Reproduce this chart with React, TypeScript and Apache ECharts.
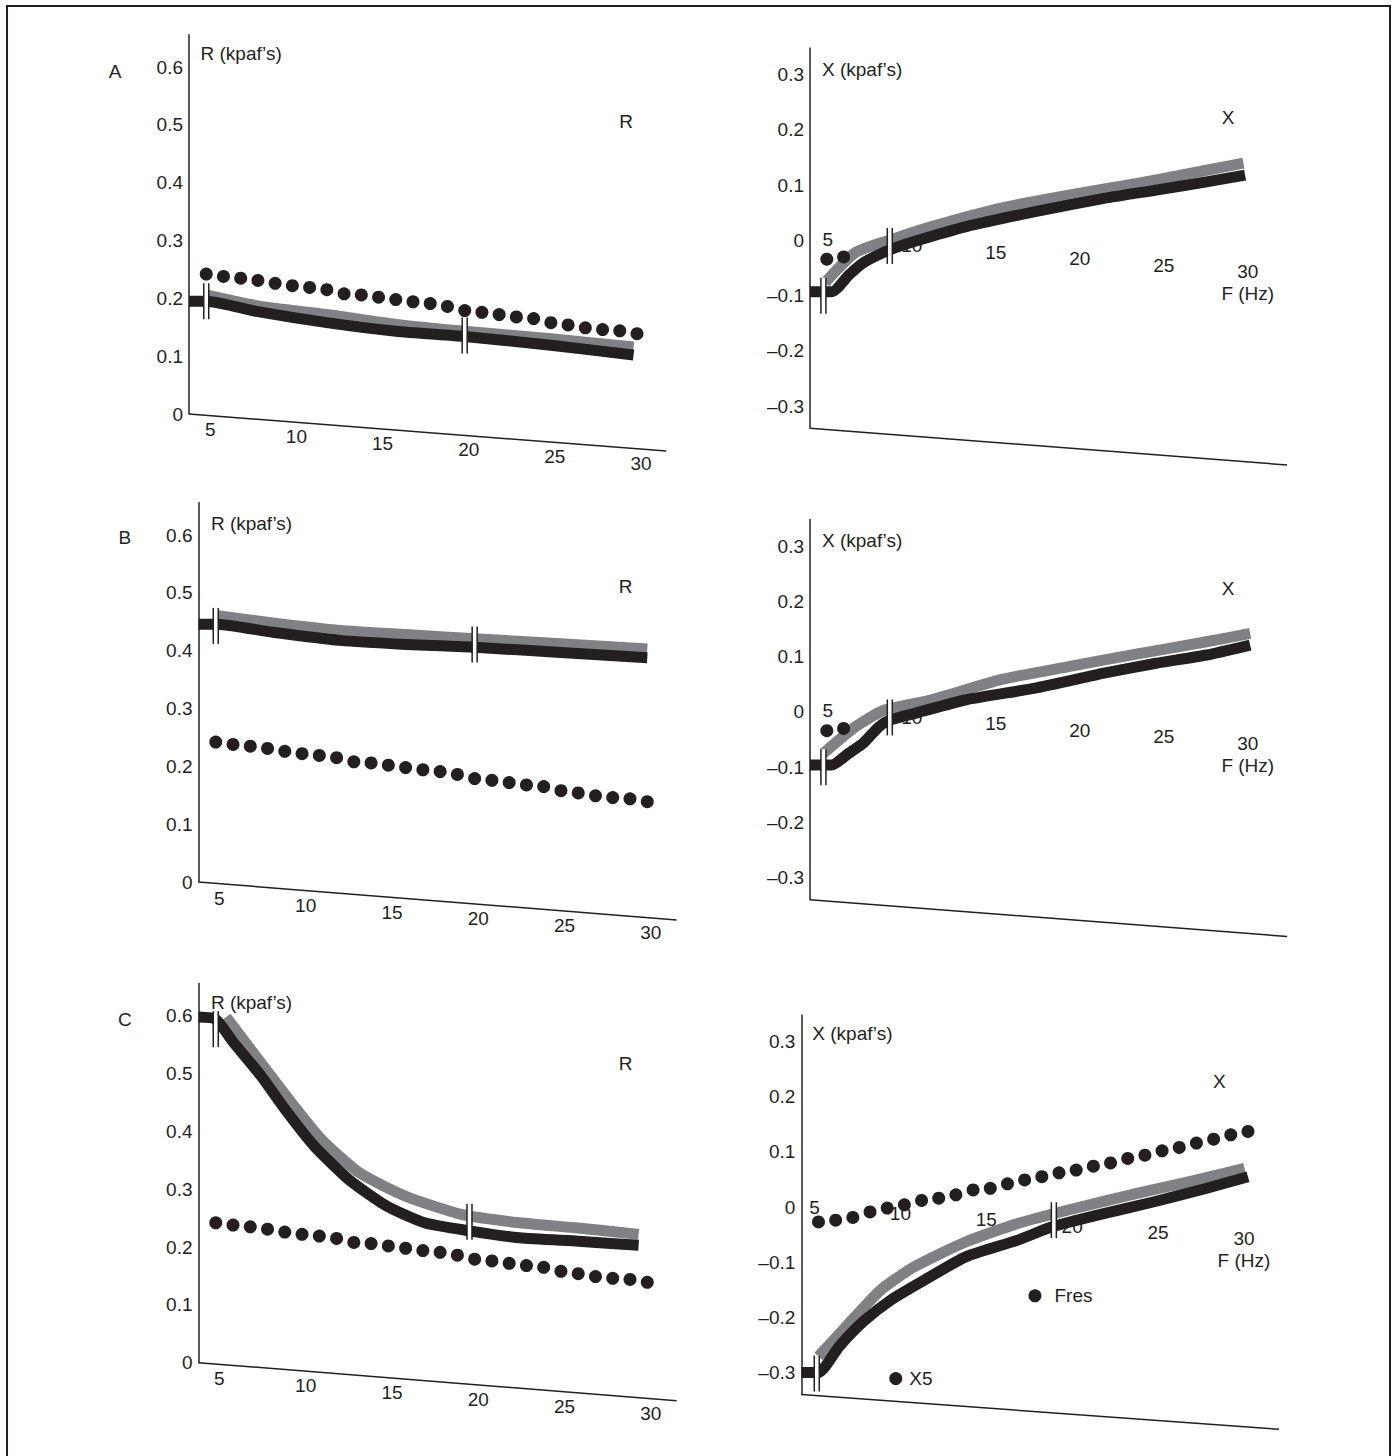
import React, { useEffect, useRef } from 'react';
import * as echarts from 'echarts';

const FONT = "'Liberation Sans', Arial, Helvetica, sans-serif";
const INK = '#231f20';
const GREY = '#808184';
const FS = 19;

// ---- tick labels ----
const freqTicks = [5, 10, 15, 20, 25, 30];
const rTicks = [0, 0.1, 0.2, 0.3, 0.4, 0.5, 0.6];
const xTicks = [-0.3, -0.2, -0.1, 0, 0.1, 0.2, 0.3];

// ---- reference (dotted) series, 1 Hz steps ----
const dotFreqs = [5, 6, 7, 8, 9, 10, 11, 12, 13, 14, 15, 16, 17, 18, 19, 20, 21, 22, 23, 24, 25, 26, 27, 28, 29, 30];
const rNormal = [0.242, 0.238, 0.235, 0.231, 0.226, 0.222, 0.219, 0.215, 0.208, 0.206, 0.202, 0.198, 0.194, 0.191, 0.186, 0.179, 0.176, 0.172, 0.168, 0.165, 0.158, 0.154, 0.149, 0.146, 0.144, 0.139];
const xNormal = [-0.027, -0.024, -0.019, -0.009, -0.002, 0.004, 0.012, 0.016, 0.022, 0.031, 0.034, 0.042, 0.049, 0.055, 0.062, 0.067, 0.074, 0.08, 0.088, 0.094, 0.102, 0.108, 0.116, 0.123, 0.131, 0.137];
const xNormalStartFreqs = [5, 6];
const xNormalStart = [-0.034, -0.03];

// ---- panel A ----
const aRBlack = [[4, 0.195], [5, 0.195], [8, 0.177], [12, 0.158], [16, 0.143], [20, 0.134], [25, 0.119], [29.8, 0.102]];
const aRGrey = [[5, 0.206], [8, 0.187], [12, 0.172], [16, 0.155], [20, 0.143], [25, 0.13], [29.8, 0.116]];
const aRBreaks = [[5, 0.195], [20, 0.136]];
const aXBlack = [[4, -0.093], [5.3, -0.093], [6.3, -0.063], [7.15, -0.041], [8.75, -0.017], [10.2, -0.002], [13.3, 0.025], [17.4, 0.052], [21.5, 0.076], [24.6, 0.091], [27.6, 0.106], [29.9, 0.118]];
const aXGrey = [[4.9, -0.076], [6.7, -0.022], [8.8, 0.001], [11.25, 0.025], [15.3, 0.058], [19.4, 0.082], [23.5, 0.103], [27.6, 0.127], [29.8, 0.14]];
const aXBreaks = [[4.8, -0.1], [8.75, -0.01]];

// ---- panel B ----
const bRBlack = [[4, 0.446], [5, 0.446], [8.3, 0.432], [12.2, 0.418], [16, 0.411], [20, 0.406], [25, 0.397], [30, 0.388]];
const bRGrey = [[5, 0.461], [8.3, 0.448], [12.2, 0.435], [16, 0.428], [20, 0.421], [25, 0.412], [30, 0.403]];
const bRBreaks = [[5, 0.443], [20, 0.411]];
const bXBlack = [[4, -0.096], [5.3, -0.096], [6.3, -0.075], [7.15, -0.057], [8.1, -0.027], [8.75, -0.015], [10.2, -0.003], [13.3, 0.022], [17.4, 0.043], [21.5, 0.07], [24.6, 0.088], [27.6, 0.103], [30.2, 0.121]];
const bXGrey = [[4.8, -0.075], [6.7, -0.027], [8.4, 0.003], [11.25, 0.022], [15.3, 0.058], [19.4, 0.082], [23.5, 0.105], [27.6, 0.127], [30.2, 0.142]];
const bXBreaks = [[4.8, -0.1], [8.75, -0.01]];

// ---- panel C ----
const cRBlack = [[4, 0.598], [5, 0.594], [6, 0.555], [7.6, 0.497], [9.1, 0.435], [10.7, 0.375], [12.7, 0.317], [14.9, 0.271], [17.1, 0.242], [19.7, 0.228], [22.6, 0.216], [26, 0.21], [29.5, 0.203]];
const cRGrey = [[5.6, 0.598], [7.6, 0.519], [9.4, 0.449], [11.1, 0.387], [13.3, 0.329], [16, 0.288], [19.3, 0.256], [22.6, 0.242], [26, 0.233], [29.5, 0.222]];
const cRBreaks = [[5, 0.577], [19.7, 0.244]];
const cXBlack = [[4, -0.3], [5, -0.3], [6.2, -0.253], [7.6, -0.208], [9.2, -0.169], [11.2, -0.132], [13.6, -0.09], [16.6, -0.06], [18.6, -0.036], [21.6, -0.012], [24.6, 0.01], [27.6, 0.034], [30, 0.055]];
const cXGrey = [[5, -0.271], [6.6, -0.217], [8.6, -0.151], [10.6, -0.108], [13.6, -0.063], [16.6, -0.03], [19.6, -0.005], [23.6, 0.025], [26.6, 0.046], [29.8, 0.07]];
const cXBreaks = [[4.9, -0.302], [18.7, -0.024]];
const cXMarkNames = ['Fres', 'X5'];
const cXMarkPoints = [[17.6, -0.161], [9.5, -0.311]];

const zip = (fs: number[], vs: number[]) => fs.map((f, k) => [f, vs[k]]);

type Panel = {
  grid: number[];
  xr: number[];
  yr: number[];
  slope: number;
  dx: number;
  dy: number;
  right: boolean;
  black: number[][];
  grey: number[][];
  breaks: number[][];
  dots: number[][];
  title: string;
  titlePos: number[];
  tag: string;
  tagPos: number[];
};

const panels: Panel[] = [
  { grid: [189, 34.8, 477.3, 379.2], xr: [4, 31.7], yr: [0, 0.656], slope: 0.0776, dx: 4, dy: 14.6, right: false,
    black: aRBlack, grey: aRGrey, breaks: aRBreaks, dots: zip(dotFreqs, rNormal),
    title: 'R (kpaf’s)', titlePos: [200.5, 53], tag: 'R', tagPos: [626, 121] },
  { grid: [810, 48.1, 477.1, 380.2], xr: [4, 32.4], yr: [-0.34, 0.348], slope: 0.0768, dx: 1, dy: -2.4, right: true,
    black: aXBlack, grey: aXGrey, breaks: aXBreaks, dots: zip(xNormalStartFreqs, xNormalStart),
    title: 'X (kpaf’s)', titlePos: [822, 69.3], tag: 'X', tagPos: [1228, 117.3] },
  { grid: [198.5, 502.8, 478.1, 379.2], xr: [4, 31.7], yr: [0, 0.656], slope: 0.0794, dx: 3.6, dy: 15, right: false,
    black: bRBlack, grey: bRGrey, breaks: bRBreaks, dots: zip(dotFreqs, rNormal),
    title: 'R (kpaf’s)', titlePos: [210.9, 523], tag: 'R', tagPos: [625.6, 586] },
  { grid: [810, 519.6, 477.1, 380.2], xr: [4, 32.4], yr: [-0.34, 0.348], slope: 0.0768, dx: 1, dy: -2.4, right: true,
    black: bXBlack, grey: bXGrey, breaks: bXBreaks, dots: zip(xNormalStartFreqs, xNormalStart),
    title: 'X (kpaf’s)', titlePos: [822, 540.7], tag: 'X', tagPos: [1228, 588.3] },
  { grid: [198.5, 983.5, 478.1, 379.2], xr: [4, 31.7], yr: [0, 0.656], slope: 0.0794, dx: 3.6, dy: 14.8, right: false,
    black: cRBlack, grey: cRGrey, breaks: cRBreaks, dots: zip(dotFreqs, rNormal),
    title: 'R (kpaf’s)', titlePos: [210.9, 1002.7], tag: 'R', tagPos: [625.6, 1063] },
  { grid: [801.3, 1015.1, 477.6, 379.4], xr: [4, 31.8], yr: [-0.34, 0.348], slope: 0.073, dx: -4, dy: -1, right: true,
    black: cXBlack, grey: cXGrey, breaks: cXBreaks, dots: zip(dotFreqs, xNormal),
    title: 'X (kpaf’s)', titlePos: [812.3, 1033.3], tag: 'X', tagPos: [1219.4, 1081.7] },
];

const panelLetters = ['A', 'B', 'C'];
const panelLetterPos = [[115, 71], [124.8, 537], [124.8, 1019]];

const fmtY = (v: number) => {
  if (Math.abs(v) < 1e-9) return '0';
  return v < 0 ? '–' + Math.abs(v).toFixed(1) : v.toFixed(1);
};

function buildOption() {
  const grid: any[] = [];
  const xAxis: any[] = [];
  const yAxis: any[] = [];
  const series: any[] = [];
  const graphic: any[] = [];

  graphic.push({
    type: 'rect', silent: true, z: 0,
    shape: { x: 7, y: 6, width: 1383, height: 1480 },
    style: { fill: 'none', stroke: INK, lineWidth: 2 },
  });
  panelLetters.forEach((t, k) => {
    graphic.push({ type: 'text', x: panelLetterPos[k][0], y: panelLetterPos[k][1],
      style: { text: t, fill: INK, fontSize: FS, fontFamily: FONT, align: 'center', verticalAlign: 'middle' } });
  });

  panels.forEach((p, i) => {
    grid.push({ left: p.grid[0], top: p.grid[1], width: p.grid[2], height: p.grid[3], containLabel: false, outerBoundsMode: 'none' });
    xAxis.push({ type: 'value', gridIndex: i, min: p.xr[0], max: p.xr[1], show: false });
    yAxis.push({
      type: 'value', gridIndex: i, min: p.yr[0], max: p.yr[1],
      axisLine: { show: true, onZero: false, lineStyle: { color: INK, width: 1.5 } },
      axisTick: { show: false },
      splitLine: { show: false },
      axisLabel: { customValues: p.right ? xTicks : rTicks, formatter: fmtY, margin: 6, color: INK, fontSize: FS, fontFamily: FONT },
    });

    graphic.push({ type: 'text', x: p.titlePos[0], y: p.titlePos[1],
      style: { text: p.title, fill: INK, fontSize: FS, fontFamily: FONT, align: 'left', verticalAlign: 'middle' } });
    graphic.push({ type: 'text', x: p.tagPos[0], y: p.tagPos[1],
      style: { text: p.tag, fill: INK, fontSize: FS, fontFamily: FONT, align: 'center', verticalAlign: 'middle' } });

    // slanted frequency axis + labels
    series.push({
      type: 'custom', xAxisIndex: i, yAxisIndex: i, z: 1, clip: false, silent: true,
      data: freqTicks.map((f) => [f, 0]),
      encode: { x: 0, y: 1 },
      renderItem: (params: any, api: any) => {
        const cs = params.coordSys;
        const f = api.value(0);
        const pt = api.coord([f, 0]);
        const tx = pt[0] + p.dx;
        const ty = pt[1] + p.dy + p.slope * (pt[0] - cs.x);
        const children: any[] = [
          { type: 'text', x: tx, y: ty, style: { text: String(f), fill: INK, fontSize: FS, fontFamily: FONT, align: 'center', verticalAlign: 'middle' } },
        ];
        if (params.dataIndex === 0) {
          const b = cs.y + cs.height;
          children.push({ type: 'line', shape: { x1: cs.x, y1: b, x2: cs.x + cs.width, y2: b + p.slope * cs.width },
            style: { stroke: INK, lineWidth: 1.5 } });
        }
        if (p.right && params.dataIndex === freqTicks.length - 1) {
          children.push({ type: 'text', x: tx, y: ty + 22, style: { text: 'F (Hz)', fill: INK, fontSize: FS, fontFamily: FONT, align: 'center', verticalAlign: 'middle' } });
        }
        return { type: 'group', children };
      },
    });

    series.push({
      type: 'line', xAxisIndex: i, yAxisIndex: i, data: p.grey, symbol: 'none', z: 3, silent: true,
      smooth: 0.2,
      lineStyle: { color: GREY, width: 11, cap: 'butt', join: 'round' },
    });
    series.push({
      type: 'line', xAxisIndex: i, yAxisIndex: i, data: p.black, symbol: 'none', z: 4, silent: true,
      smooth: 0.2,
      lineStyle: { color: INK, width: 11, cap: 'butt', join: 'round' },
    });
    series.push({
      type: 'scatter', xAxisIndex: i, yAxisIndex: i, data: p.dots, symbol: 'circle', symbolSize: 13, z: 5, silent: true,
      itemStyle: { color: INK, opacity: 1 },
    });
    series.push({
      type: 'custom', xAxisIndex: i, yAxisIndex: i, z: 6, clip: false, silent: true,
      data: p.breaks,
      encode: { x: 0, y: 1 },
      renderItem: (params: any, api: any) => {
        const pt = api.coord([api.value(0), api.value(1)]);
        const h = 36;
        return {
          type: 'group',
          children: [
            { type: 'rect', shape: { x: pt[0] - 2.5, y: pt[1] - h / 2, width: 5, height: h }, style: { fill: '#ffffff' } },
            { type: 'line', shape: { x1: pt[0] - 2.5, y1: pt[1] - h / 2, x2: pt[0] - 2.5, y2: pt[1] + h / 2 }, style: { stroke: INK, lineWidth: 1.5 } },
            { type: 'line', shape: { x1: pt[0] + 2.5, y1: pt[1] - h / 2, x2: pt[0] + 2.5, y2: pt[1] + h / 2 }, style: { stroke: INK, lineWidth: 1.5 } },
          ],
        };
      },
    });

    if (i === 5) {
      series.push({
        type: 'scatter', xAxisIndex: i, yAxisIndex: i, symbol: 'circle', symbolSize: 13, z: 5, silent: true,
        itemStyle: { color: INK, opacity: 1 },
        data: cXMarkNames.map((n, k) => ({ name: n, value: cXMarkPoints[k], label: { distance: k === 0 ? 13 : 7 } })),
        label: { show: true, position: 'right', formatter: '{b}', color: INK, fontSize: FS, fontFamily: FONT },
      });
    }
  });

  return {
    animation: false,
    backgroundColor: '#ffffff',
    textStyle: { fontFamily: FONT },
    grid, xAxis, yAxis, series, graphic,
  };
}

export default function App() {
  const ref = useRef<HTMLDivElement>(null);
  useEffect(() => {
    if (!ref.current) return;
    const chart = echarts.init(ref.current, undefined, { renderer: 'svg' });
    chart.setOption(buildOption() as any);
    return () => chart.dispose();
  }, []);
  return <div ref={ref} style={{ position: 'fixed', left: 0, top: 0, width: 1396, height: 1456, background: '#fff' }} />;
}
